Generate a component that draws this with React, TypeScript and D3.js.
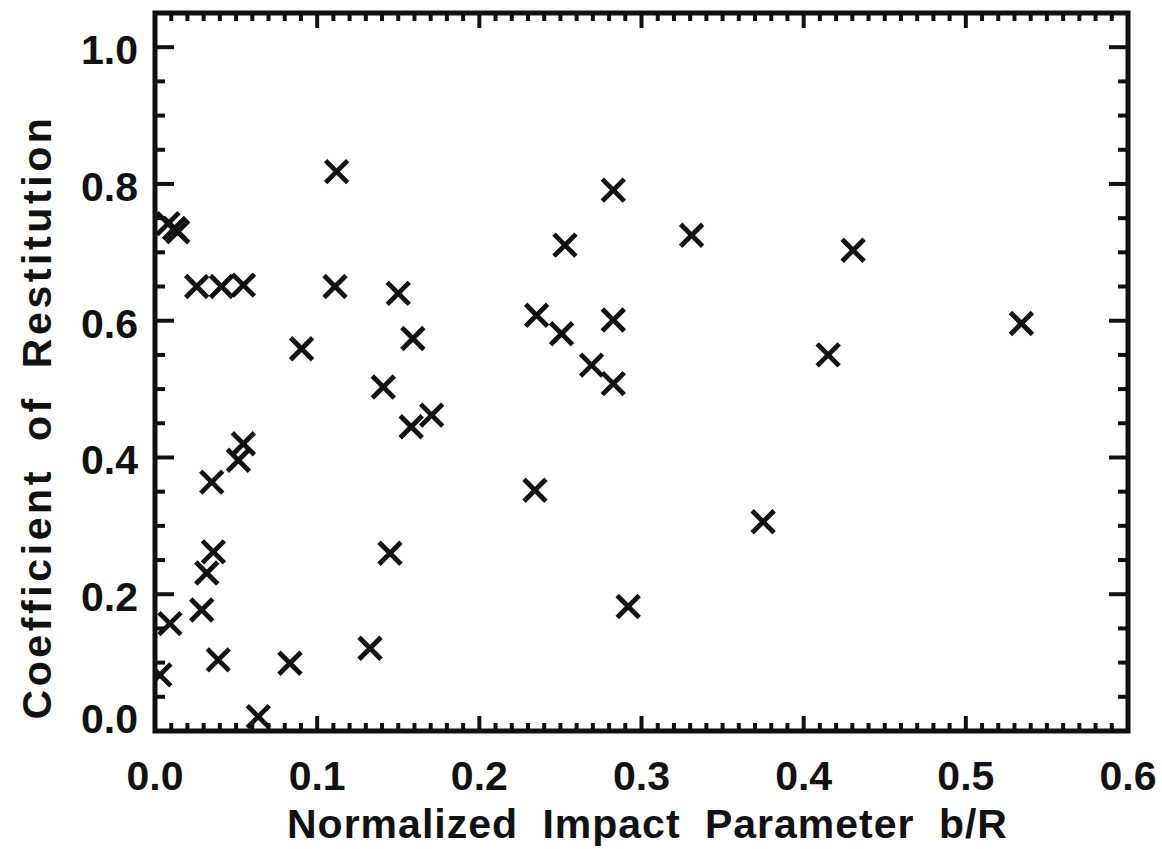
import React from "react";
import * as d3 from "d3";

const impactParam = [
  0.112, 0.008, 0.012, 0.014, 0.0257, 0.041, 0.0545, 0.111, 0.150, 0.159,
  0.0904, 0.1408, 0.158, 0.1706, 0.0545, 0.0514, 0.035, 0.036, 0.0319, 0.0288,
  0.0092, 0.003, 0.039, 0.0832, 0.1326, 0.0637, 0.1449, 0.2826, 0.2528, 0.3309,
  0.2353, 0.2507, 0.2826, 0.2692, 0.2826, 0.2343, 0.2918, 0.375, 0.4305, 0.4151,
  0.5343,
];
const restitution = [
  0.818, 0.742, 0.735, 0.73, 0.65, 0.65, 0.652, 0.65, 0.64, 0.574,
  0.559, 0.503, 0.445, 0.462, 0.42, 0.396, 0.364, 0.262, 0.231, 0.177,
  0.157, 0.082, 0.104, 0.099, 0.121, 0.021, 0.26, 0.791, 0.7105, 0.725,
  0.608, 0.581, 0.601, 0.535, 0.508, 0.352, 0.182, 0.306, 0.703, 0.55,
  0.596,
];
const xTicks = [0, 0.1, 0.2, 0.3, 0.4, 0.5, 0.6];
const yTicks = [0, 0.2, 0.4, 0.6, 0.8, 1.0];
const xTitle = "Normalized Impact Parameter b/R";
const yTitle = "Coefficient of Restitution";

const W = 1162;
const H = 849;
const L = 155, R = 1128, T = 13, B = 731;
const INK = "#111";
const FONT = "'Liberation Sans', Arial, sans-serif";

export default function App() {
  const x = d3.scaleLinear().domain([0, 0.6]).range([L, R]);
  const y = d3.scaleLinear().domain([0, 1.05]).range([B, T]);
  const xMinor = d3.range(0, 61).map((i) => i / 100);
  const yMinor = d3.range(0, 22).map((i) => i * 0.05).filter((v) => v <= 1.05);
  const arm = 11;
  const pts = impactParam.map((v, i) => [x(v), y(restitution[i])]);

  return (
    <svg width={W} height={H} style={{ position: "absolute", left: 0, top: 0, background: "#fff" }}>
      <rect x={0} y={0} width={W} height={H} fill="#fff" />
      <defs>
        <clipPath id="clip">
          <rect x={L} y={T} width={R - L} height={B - T} />
        </clipPath>
      </defs>
      <g clipPath="url(#clip)">
        {pts.map(([px, py], i) => (
          <g key={i} stroke={INK} strokeWidth={4.8}>
            <line x1={px - arm} y1={py - arm} x2={px + arm} y2={py + arm} />
            <line x1={px - arm} y1={py + arm} x2={px + arm} y2={py - arm} />
          </g>
        ))}
      </g>
      <g stroke={INK} strokeWidth={4}>
        {xMinor.map((v, i) => {
          const major = i % 10 === 0;
          const len = major ? 15 : 8;
          return (
            <g key={"xm" + i}>
              <line x1={x(v)} x2={x(v)} y1={B} y2={B - len} />
              <line x1={x(v)} x2={x(v)} y1={T} y2={T + len} />
            </g>
          );
        })}
        {yMinor.map((v, i) => {
          const major = i % 4 === 0;
          const len = major ? 19 : 10;
          return (
            <g key={"ym" + i}>
              <line x1={L} x2={L + len} y1={y(v)} y2={y(v)} />
              <line x1={R} x2={R - len} y1={y(v)} y2={y(v)} />
            </g>
          );
        })}
      </g>
      <rect x={L} y={T} width={R - L} height={B - T} fill="none" stroke={INK} strokeWidth={5} />
      <g fill={INK} fontFamily={FONT} fontWeight="bold" fontSize={41}>
        {xTicks.map((v) => (
          <text key={"xt" + v} x={x(v)} y={790} textAnchor="middle">
            {v.toFixed(1)}
          </text>
        ))}
        {yTicks.map((v) => (
          <text key={"yt" + v} x={138} y={v === 0 ? 733 : y(v) + 17} textAnchor="end">
            {v.toFixed(1)}
          </text>
        ))}
        <text x={(L + R) / 2 + 6} y={838} textAnchor="middle" wordSpacing={12} letterSpacing={1}>
          {xTitle}
        </text>
        <text
          transform={`translate(51, 417) rotate(-90)`}
          textAnchor="middle"
          wordSpacing={12}
          letterSpacing={3.6}
        >
          {yTitle}
        </text>
      </g>
    </svg>
  );
}
